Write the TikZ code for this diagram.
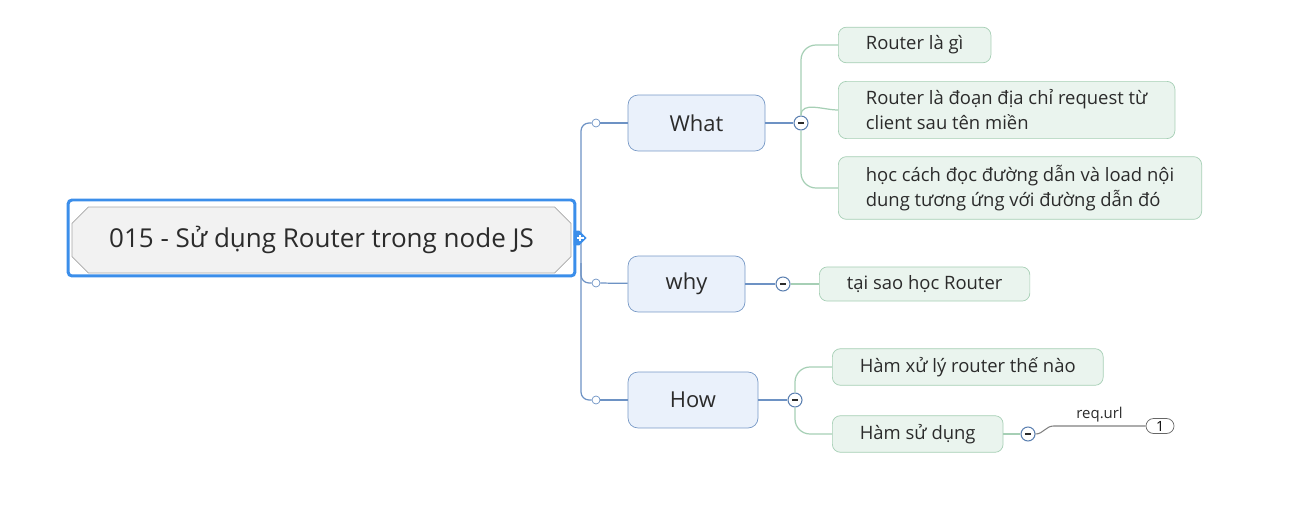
\documentclass[tikz,border=0pt]{standalone}
\usepackage{fontspec}
\setmainfont{Open Sans}
\usetikzlibrary{shapes.misc,shapes.symbols}
\definecolor{framblue}{HTML}{3B8EEA}
\definecolor{rootgray}{HTML}{F2F2F2}
\definecolor{topicfill}{HTML}{EAF1FB}
\definecolor{topicdraw}{HTML}{7799C6}
\definecolor{branchblue}{HTML}{6D92C4}
\definecolor{leaffill}{HTML}{EAF4EE}
\definecolor{leafdraw}{HTML}{A6CFB5}
\definecolor{knobdraw}{HTML}{5A7FB0}
\definecolor{inkgray}{HTML}{2B2B2B}

\begin{document}
\begin{tikzpicture}[
        x=0.02cm, y=-0.02cm, % 1 px of the screenshot
        frame/.style = {draw=framblue, line width=1.7pt, rounded corners=0.08cm, minimum width=10.14cm, minimum height=1.52cm},
        title/.style = {chamfered rectangle, chamfered rectangle xsep=0.2cm, draw=gray!70, fill=rootgray, inner sep=0pt,
                        minimum width=9.98cm, minimum height=1.32cm, text=inkgray, font=\fontsize{14.8}{17}\selectfont},
        handle/.style = {signal, signal to=east, fill=framblue, inner sep=0pt, minimum width=0.26cm, minimum height=0.3cm,
                        path picture={\draw[white, line width=0.9pt] (path picture bounding box.center) ++(-0.07cm,0) -- ++(0.14cm,0)
                            (path picture bounding box.center) ++(0,-0.07cm) -- ++(0,0.14cm);}},
        topic/.style = {draw=topicdraw, fill=topicfill, rounded corners=0.2cm, minimum height=1.12cm, text=inkgray,
                        font=\fontsize{12.5}{15}\selectfont}, % What / why / How
        leaf/.style = {draw=leafdraw, fill=leaffill, rounded corners=0.16cm, anchor=west, align=left, inner xsep=0.55cm,
                        inner ysep=0.17cm, minimum height=0.68cm, text=inkgray, font=\fontsize{10.5}{14.2}\selectfont},
        dot/.style = {circle, draw=branchblue, fill=white, inner sep=0pt, minimum size=0.16cm},
        knob/.style = {circle, draw=knobdraw, fill=white, inner sep=0pt, minimum size=0.28cm, line width=0.6pt,
                        path picture={\draw[inkgray, line width=0.6pt] (path picture bounding box.center) ++(-0.06cm,0) -- ++(0.12cm,0);}},
        count/.style = {draw=gray!80!black, fill=white, rounded corners=0.15cm, minimum width=0.56cm, minimum height=0.3cm,
                        inner sep=0pt, font=\fontsize{8}{9}\selectfont},
        bline/.style = {draw=branchblue, line width=0.7pt},
        gline/.style = {draw=leafdraw, line width=0.7pt},
    ]
    \useasboundingbox (0,0) rectangle (1300,523);

    % root
    \node[frame] (rootframe) at (321.5,238) {};
    \node[title] (root) at (321.5,240) {015 - Sử dụng Router trong node JS};
    \coordinate (trunk) at (581,238);

    % main branches
    \node[dot] (dwhat) at (596,123) {};
    \node[dot] (dwhy) at (596,283) {};
    \node[dot] (dhow) at (596,400) {};
    \node[topic, minimum width=2.74cm] (what) at (696.5,123) {What};
    \node[topic, minimum width=2.34cm] (why) at (686.5,284) {why};
    \node[topic, minimum width=2.6cm] (how) at (693,400) {How};

    \draw[bline] (rootframe.east) -- (trunk);
    \draw[bline, rounded corners=0.16cm] (trunk) |- (dwhat);
    \draw[bline, rounded corners=0.16cm] (trunk) |- (dhow);
    \draw[bline, rounded corners=0.16cm] ([yshift=0.4cm]trunk |- dwhy) |- (dwhy);
    \draw[bline] (dwhat) -- (what);
    \draw[bline] (dwhy) -- (why);
    \draw[bline] (dhow) -- (how);
    \node[handle] (plus) at (rootframe.east) {};

    % What
    \node[knob] (kwhat) at (801,123) {};
    \node[leaf] (l1) at (838,45) {Router là gì};
    \node[leaf] (l2) at (838,110) {Router là đoạn địa chỉ request từ\\client sau tên miền};
    \node[leaf] (l3) at (838,188) {học cách đọc đường dẫn và load nội\\dung tương ứng với đường dẫn đó};
    \draw[bline] (what) -- (kwhat);
    \draw[gline, rounded corners=0.3cm] (kwhat) |- (l1);
    \draw[gline] (kwhat.north) to[out=90, in=180] (l2.west);
    \draw[gline, rounded corners=0.3cm] (kwhat) |- (l3);

    % why
    \node[knob] (kwhy) at (783,284) {};
    \node[leaf] (l4) at (819,284) {tại sao học Router};
    \draw[bline] (why) -- (kwhy);
    \draw[gline] (kwhy) -- (l4);

    % How
    \node[knob] (khow) at (795,400) {};
    \node[leaf] (l5) at (832,367) {Hàm xử lý router thế nào};
    \node[leaf] (l6) at (832,434) {Hàm sử dụng};
    \draw[bline] (how) -- (khow);
    \draw[gline, rounded corners=0.3cm] (khow) |- (l5);
    \draw[gline, rounded corners=0.3cm] (khow) |- (l6);

    \node[knob] (kuse) at (1028,434) {};
    \node[count] (one) at (1160,426) {1};
    \draw[gline] (l6) -- (kuse);
    \draw[draw=gray, line width=0.6pt] (kuse.east) to[out=0, in=180] ([xshift=0.36cm]kuse.east |- one.west)
        -- node[above, inner sep=2pt, text=inkgray, font=\fontsize{8.5}{10}\selectfont] (url) {req.url} (one.west);
\end{tikzpicture}
\end{document}
